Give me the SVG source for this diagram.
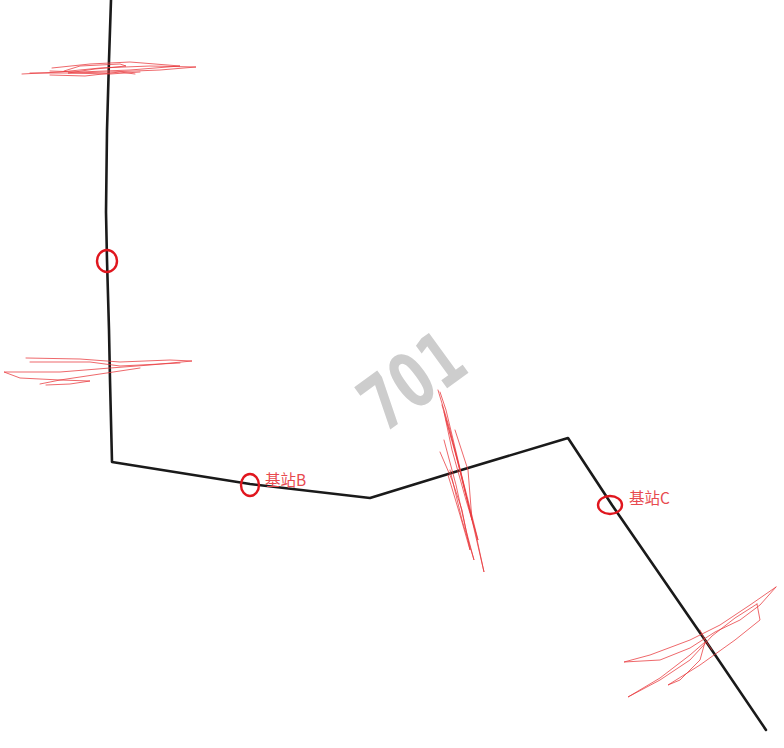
<svg xmlns="http://www.w3.org/2000/svg" width="784" height="748" viewBox="0 0 784 748">
<style>
.road{fill:none;stroke:#1a1a1a;stroke-width:2.6;stroke-linejoin:round;stroke-linecap:round}
.scr{fill:none;stroke:#e8383d;stroke-width:0.9;stroke-linejoin:round;stroke-linecap:round;opacity:0.85}
.mark{fill:none;stroke:#e0161e;stroke-width:2.4}
.lbl{font-family:"Noto Sans CJK SC","Liberation Sans",sans-serif;font-size:15.5px;fill:#e84a4f}
.wm{font-family:"DejaVu Sans","Liberation Sans",sans-serif;font-weight:bold;font-size:76px;fill:#cdcdcd}
</style>
<rect width="784" height="748" fill="#ffffff"/>
<g id="watermark"><text class="wm" transform="translate(384,434) rotate(-36) scale(0.68,1)">701</text></g>
<g id="connectors">
<path class="road" d="M111,0 L109,60 L107,130 L106,212 L107,260 L109,330 L110,380 L112,462 L250,484 L370,498 L458,471 L568,438 L612,505 L705,640 L766,730"/>
</g>
<g id="scribbles">
<path class="scr" d="M22,74 L60,72 L100,68 L150,66 L196,67 L160,70 L110,72 L70,73 L30,73"/>
<path class="scr" d="M52,68 L90,64 L130,62 L180,66 L130,70 L80,72 L50,71"/>
<path class="scr" d="M64,71 L80,66 L120,64 L126,66 L95,69 L68,73 L110,74 L140,72"/>
<path class="scr" d="M50,75 L85,76 L120,72 L135,74"/>
<path class="scr" d="M26,358 L80,359 L120,362 L170,360 L192,361 L150,365 L110,368 L60,372 L4,372 L20,378 L60,380 L100,374 L140,368"/>
<path class="scr" d="M30,362 L90,362 L120,366 L180,363"/>
<path class="scr" d="M40,384 L60,380 L90,381 L70,384 L46,385"/>
<path class="scr" d="M438,390 L450,430 L462,480 L475,530 L484,572 L472,520 L458,460 L446,410 L440,392"/>
<path class="scr" d="M442,405 L455,450 L468,500 L478,540 L466,500 L452,450 L444,412"/>
<path class="scr" d="M440,452 L452,480 L462,510 L470,550 L460,515 L448,475"/>
<path class="scr" d="M446,420 L460,470 L472,520 L468,470 L455,430"/>
<path class="scr" d="M444,440 L456,485 L466,530 L474,560 L462,520 L450,470"/>
<path class="scr" d="M776,587 L760,605 L740,620 L715,632 L690,648 L660,660 L624,662 L650,655 L690,640 L720,625 L750,605 L776,587"/>
<path class="scr" d="M757,604 L735,618 L712,636 L690,660 L660,680 L628,697 L660,678 L690,655 L705,642 L700,660 L680,680 L668,685 L700,665 L735,640 L760,620 L757,604"/>
<path class="scr" d="M700,630 L705,640 L712,650"/>
</g>
<g id="baseA"><ellipse class="mark" cx="107" cy="261" rx="10" ry="11"/></g>
<g id="baseB"><ellipse class="mark" cx="250" cy="485" rx="9" ry="11"/><text class="lbl" x="265" y="486">基站B</text></g>
<g id="baseC"><ellipse class="mark" cx="610" cy="505" rx="12" ry="9"/><text class="lbl" x="629" y="504">基站C</text></g>
</svg>
